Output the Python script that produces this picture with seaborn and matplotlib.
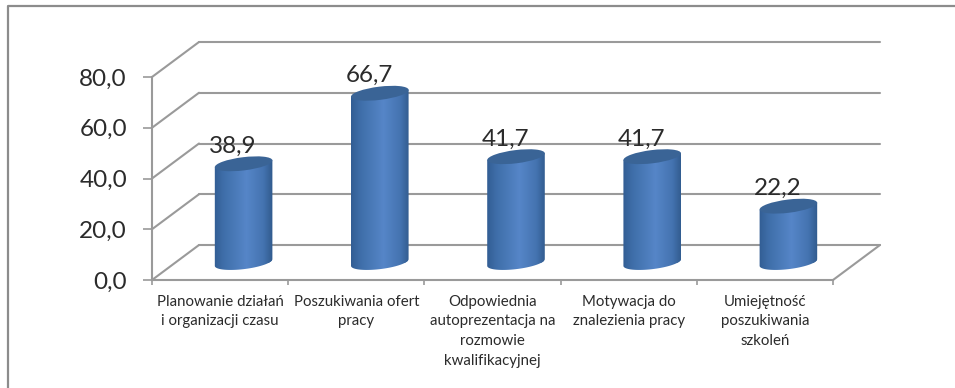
import numpy as np
import pandas as pd
import seaborn as sns
import matplotlib
matplotlib.use("Agg")
import matplotlib.pyplot as plt
from matplotlib.colors import LinearSegmentedColormap
from matplotlib.lines import Line2D
from matplotlib.patches import Ellipse
from matplotlib.path import Path
from matplotlib.transforms import Affine2D, IdentityTransform, ScaledTranslation

categories = [
    "Planowanie działań\ni organizacji czasu",
    "Poszukiwania ofert\npracy",
    "Odpowiednia\nautoprezentacja na\nrozmowie\nkwalifikacyjnej",
    "Motywacja do\nznalezienia pracy",
    "Umiejętność\nposzukiwania\nszkoleń",
]
values = [38.9, 66.7, 41.7, 41.7, 22.2]
y_ticks = [0, 20, 40, 60, 80]

W, H = 955, 388
L, R, T, B = 152, 833, 77, 280   # front plane, pixels
DX, DY = 47, 35                  # depth of the 3D box, pixels
GRID = "#9a9a9a"
TEXT = "#2b2b2b"

sns.set_theme(style="white")
plt.rcParams["font.family"] = ["Lato", "DejaVu Sans"]

fig = plt.figure(figsize=(W / 100, H / 100), dpi=100, facecolor="white")
ax = fig.add_axes([L / W, 1 - B / H, (R - L) / W, (B - T) / H])
ax.patch.set_alpha(0)

df = pd.DataFrame({"cat": categories, "val": values})
sns.barplot(data=df, x="cat", y="val", ax=ax, width=0.418, color="#3f6ea8",
            saturation=1, zorder=3, errorbar=None)
ax.set_xlim(-0.5, len(categories) - 0.5)
ax.set_ylim(y_ticks[0], y_ticks[-1])
ax.set_xlabel("")
ax.set_ylabel("")

# Axes, ticks, labels
for s in ("top", "right"):
    ax.spines[s].set_visible(False)
for s in ("left", "bottom"):
    ax.spines[s].set_color(GRID)
    ax.spines[s].set_linewidth(1.5)
ax.set_yticks(y_ticks)
ax.set_yticklabels([f"{v:.1f}".replace(".", ",") for v in y_ticks])
ax.tick_params(axis="y", length=6.5, width=1.2, color=GRID, pad=11.5,
               labelsize=17.5, labelcolor=TEXT, left=True)
ax.set_xticks(range(len(categories)))
ax.set_xticklabels(categories, fontsize=10.8, color=TEXT, linespacing=1.52)
ax.set_xticks(np.arange(-0.5, len(categories)), minor=True)
ax.tick_params(axis="x", which="major", length=0, pad=10.5)
ax.tick_params(axis="x", which="minor", length=3.5, width=1.2, color=GRID, bottom=True)

# 3D box lines: back wall and left-wall / floor diagonals
back = ax.transData + Affine2D().translate(DX, DY)
x0, x1 = ax.get_xlim()
for v in y_ticks:
    ax.plot([x0, x1], [v, v], transform=back, color=GRID, lw=1.5, clip_on=False, zorder=1)
    p = ax.transData.transform((x0, v))
    ax.add_line(Line2D([p[0], p[0] + DX], [p[1], p[1] + DY], transform=IdentityTransform(),
                       color=GRID, lw=1.5, clip_on=False, zorder=1))
p = ax.transData.transform((x1, y_ticks[0]))
ax.add_line(Line2D([p[0], p[0] + DX], [p[1], p[1] + DY], transform=IdentityTransform(),
                   color=GRID, lw=1.5, clip_on=False, zorder=1))

# Cylinders: the seaborn bars get a gradient body and elliptical ends
mid = Affine2D().translate(DX / 2, DY / 2)
cmap = LinearSegmentedColormap.from_list(
    "cyl", [(0, "#2f5a8f"), (0.18, "#3f6ea9"), (0.55, "#5686c8"), (0.82, "#4473b0"), (1, "#2c5585")])
A, Bb, ANG = 29.0, 6.6, 7.0
grad = np.linspace(0, 1, 128).reshape(1, -1)
theta = np.linspace(np.pi, 2 * np.pi, 40)
rot = np.deg2rad(ANG)
for i, (bar, v) in enumerate(zip(ax.patches, values)):
    bar.set_transform(ax.transData + mid)
    bar.set_edgecolor("none")
    xa, xb = bar.get_x(), bar.get_x() + bar.get_width()
    base = np.array(ax.transData.transform((i, 0))) + [DX / 2, DY / 2]
    top = np.array(ax.transData.transform((i, v))) + [DX / 2, DY / 2]
    ex = A * np.cos(theta) * np.cos(rot) - Bb * np.sin(theta) * np.sin(rot)
    ey = A * np.cos(theta) * np.sin(rot) + Bb * np.sin(theta) * np.cos(rot)
    verts = np.column_stack([base[0] + ex, base[1] + ey])
    verts = np.vstack([verts, [top[0] + ex[-1], top[1] + ey[-1]],
                       [top[0] + ex[0], top[1] + ey[0]], verts[0]])
    body = Path(verts, closed=True)
    bar.set_clip_path(body, IdentityTransform())
    im = ax.imshow(grad, cmap=cmap, aspect="auto", extent=[xa - 0.02, xb + 0.02, -6, v + 4],
                   transform=ax.transData + mid, zorder=3.1, interpolation="bilinear")
    im.set_clip_path(body, IdentityTransform())
    cap = Ellipse((0, 0), 2, 2, facecolor="#3a6496", edgecolor="none", zorder=3.2,
                  transform=Affine2D().scale(A, Bb).rotate_deg(ANG)
                  + ScaledTranslation(i, v, ax.transData) + mid)
    ax.add_patch(cap)
    ax.annotate(f"{v:.1f}".replace(".", ","), xy=(i, v), xytext=(13, 35),
                textcoords="offset pixels", ha="center", va="center",
                fontsize=17.5, color=TEXT, zorder=4, annotation_clip=False)
ax.set_xlim(x0, x1)
ax.set_ylim(y_ticks[0], y_ticks[-1])
ax.set_aspect("auto")

# Outer frame (top and left only)
fig.add_artist(Line2D([8 / W, 8 / W, 1], [0, 1 - 6 / H, 1 - 6 / H], transform=fig.transFigure,
                      color="#8c8c8c", lw=1.6))

fig.savefig("out.png", dpi=100, facecolor="white")
